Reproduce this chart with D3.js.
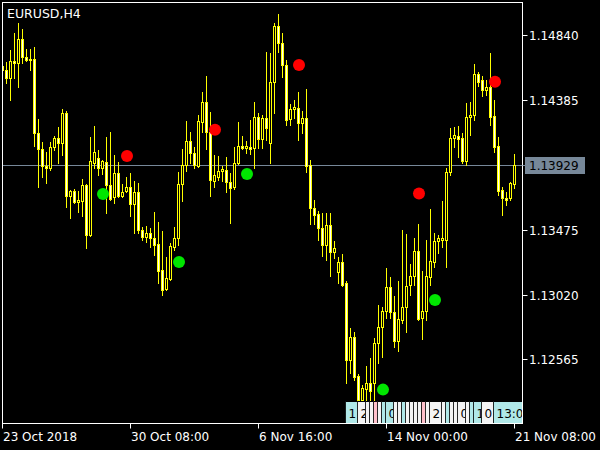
<!DOCTYPE html>
<html><head><meta charset="utf-8">
<script src="https://cdn.jsdelivr.net/npm/d3@7"></script>
<style>html,body{margin:0;padding:0;background:#000;}svg{display:block;}</style>
</head><body>
<svg id="c" width="600" height="450"></svg>
<script>
const open  = [1.14623,1.14595,1.14539,1.14658,1.14644,1.14813,1.14686,1.14665,1.14672,1.14153,1.14041,1.13922,1.13908,1.14055,1.14118,1.14083,1.14293,1.13711,1.13746,1.13669,1.13676,1.13789,1.13438,1.13943,1.13978,1.13908,1.13950,1.13789,1.13704,1.13873,1.13711,1.13746,1.13775,1.13655,1.13740,1.13473,1.13424,1.13452,1.13417,1.13375,1.13193,1.13059,1.13129,1.13354,1.13417,1.13796,1.13929,1.14097,1.14013,1.13922,1.14230,1.14371,1.14160,1.13817,1.13845,1.13887,1.13894,1.13810,1.13775,1.13943,1.14062,1.14048,1.14055,1.14048,1.14265,1.14111,1.14258,1.14083,1.14511,1.14904,1.14784,1.14630,1.14251,1.14322,1.14329,1.14223,1.14258,1.13929,1.13627,1.13585,1.13487,1.13368,1.13508,1.13319,1.13178,1.13249,1.13101,1.12561,1.12723,1.12449,1.12281,1.12358,1.12400,1.12400,1.12681,1.12793,1.12905,1.13073,1.12898,1.12695,1.12842,1.12933,1.13087,1.13150,1.13326,1.12856,1.12905,1.13143,1.13249,1.13396,1.13403,1.13403,1.13880,1.14118,1.14132,1.14118,1.13957,1.14265,1.14280,1.14567,1.14525,1.14455,1.14476,1.14273,1.14062,1.13753,1.13697,1.13697,1.13796];
const high  = [1.14637,1.14651,1.14735,1.14855,1.14925,1.14883,1.14742,1.14742,1.14756,1.14251,1.14090,1.14020,1.14090,1.14132,1.14195,1.14322,1.14308,1.13753,1.13760,1.13746,1.13831,1.13796,1.14125,1.14202,1.14034,1.13964,1.14125,1.14160,1.13999,1.13950,1.13796,1.13845,1.13873,1.13817,1.13803,1.13494,1.13501,1.13487,1.13599,1.13529,1.13466,1.13284,1.13382,1.13494,1.13880,1.14041,1.14237,1.14160,1.14055,1.14280,1.14441,1.14553,1.14301,1.13999,1.13992,1.13922,1.13985,1.13873,1.14055,1.14230,1.14132,1.14097,1.14244,1.14371,1.14293,1.14280,1.14721,1.14714,1.14925,1.14988,1.14855,1.14665,1.14357,1.14385,1.14441,1.14308,1.14462,1.13964,1.13683,1.13606,1.13592,1.13592,1.13592,1.13396,1.13284,1.13305,1.13115,1.12786,1.12758,1.12463,1.12386,1.12519,1.12575,1.12716,1.12947,1.12933,1.13206,1.13143,1.13010,1.13115,1.13473,1.13445,1.13235,1.13417,1.13515,1.13186,1.13403,1.13620,1.13452,1.13438,1.13676,1.13908,1.14188,1.14195,1.14202,1.14153,1.14364,1.14371,1.14637,1.14581,1.14553,1.14525,1.14714,1.14385,1.14125,1.13775,1.13740,1.13810,1.14006];
const low   = [1.14581,1.14504,1.14385,1.14539,1.14476,1.14644,1.14658,1.14595,1.14062,1.13775,1.13845,1.13803,1.13894,1.14034,1.13943,1.13999,1.13634,1.13557,1.13662,1.13599,1.13571,1.13347,1.13431,1.13908,1.13859,1.13866,1.13592,1.13683,1.13662,1.13704,1.13704,1.13740,1.13571,1.13452,1.13452,1.13403,1.13389,1.13354,1.13298,1.13101,1.13017,1.13052,1.13122,1.13333,1.13368,1.13676,1.13887,1.13943,1.13908,1.13915,1.14160,1.14041,1.13711,1.13775,1.13824,1.13817,1.13740,1.13522,1.13760,1.13936,1.14041,1.14013,1.14006,1.13908,1.14048,1.14048,1.14104,1.13943,1.14293,1.14721,1.14546,1.14209,1.14209,1.14258,1.14104,1.14153,1.13880,1.13515,1.13515,1.13403,1.13291,1.13263,1.13150,1.13277,1.13101,1.13080,1.12400,1.12470,1.12421,1.12211,1.12197,1.12281,1.12246,1.12267,1.12540,1.12582,1.12856,1.12856,1.12652,1.12624,1.12821,1.12758,1.13017,1.13087,1.12842,1.12709,1.12842,1.13087,1.13213,1.13312,1.13354,1.13213,1.13859,1.14055,1.13985,1.13943,1.13929,1.14139,1.14244,1.14483,1.14413,1.14420,1.14209,1.14020,1.13719,1.13578,1.13648,1.13683,1.13768];
const close = [1.14595,1.14539,1.14658,1.14644,1.14813,1.14686,1.14665,1.14672,1.14153,1.14041,1.13922,1.13908,1.14055,1.14118,1.14083,1.14293,1.13711,1.13746,1.13669,1.13683,1.13789,1.13438,1.13957,1.14020,1.13908,1.13957,1.13789,1.13690,1.13873,1.13711,1.13740,1.13775,1.13655,1.13740,1.13473,1.13424,1.13452,1.13417,1.13368,1.13186,1.13052,1.13136,1.13361,1.13417,1.13796,1.13929,1.14097,1.14013,1.13929,1.14237,1.14371,1.14160,1.13824,1.13859,1.13887,1.13901,1.13810,1.13768,1.13943,1.14062,1.14048,1.14062,1.14041,1.14265,1.14111,1.14258,1.14188,1.14511,1.14904,1.14784,1.14630,1.14244,1.14322,1.14336,1.14223,1.14258,1.13922,1.13627,1.13578,1.13487,1.13368,1.13508,1.13319,1.13347,1.13249,1.13087,1.12561,1.12723,1.12442,1.12281,1.12365,1.12400,1.12344,1.12681,1.12793,1.12905,1.13073,1.12898,1.12695,1.12849,1.12933,1.13080,1.13150,1.13326,1.12849,1.12905,1.13150,1.13256,1.13396,1.13417,1.13417,1.13880,1.14118,1.14139,1.14111,1.13957,1.14265,1.14280,1.14567,1.14511,1.14455,1.14476,1.14265,1.14055,1.13746,1.13697,1.13683,1.13803,1.13929];

const sellIdx = [31, 53, 74, 104, 123];
const sellVal = [1.13992, 1.14176, 1.14630, 1.13728, 1.14513];
const buyIdx  = [25, 44, 61, 95, 108];
const buyVal  = [1.13725, 1.13249, 1.13866, 1.12353, 1.12982];

const priceTicks = [1.14840, 1.14385, 1.13929, 1.13475, 1.13020, 1.12565];
const priceTickLabels = ["1.14840", "1.14385", "", "1.13475", "1.13020", "1.12565"];
const currentPrice = 1.13929;
const timeTickIdx = [0, 32, 64, 96, 128];
const timeTickLabels = ["23 Oct 2018", "30 Oct 08:00", "6 Nov 16:00", "14 Nov 00:00", "21 Nov 08:00"];
const title = "EURUSD,H4";

// bottom label strip: segment start bar, end bar, colour kind, visible text
const segStart = [86, 89, 91, 92, 93, 94, 95, 96, 98, 99, 100, 101, 102, 103, 104, 105, 106, 107, 110, 111, 112, 113, 114, 116, 117, 118, 120, 123];
const segEnd   = [89, 91, 92, 93, 94, 95, 96, 98, 99, 100, 101, 102, 103, 104, 105, 106, 107, 110, 111, 112, 113, 114, 116, 117, 118, 120, 123, 131];
const segKind  = [0, 1, 1, 1, 2, 1, 0, 0, 1, 1, 0, 1, 1, 1, 1, 2, 1, 1, 1, 0, 1, 1, 1, 1, 0, 0, 1, 0];
const segText  = ["1", "2", "", "", "", "", "", "0", "", "", "", "", "", "", "", "", "", "2", "", "", "", "", "0", "", "", "1", "0", "13:00"];

const svg = d3.select("#c");
const W = 600, H = 450;
const L = 2.5, R = 522.5, T = 2.5, B = 423.5;

const x = d3.scaleLinear().domain([0, 128]).range([2.5, 514.5]);
const y = d3.scaleLinear().domain([1.12565, 1.14840]).range([359.4, 35.1]);

svg.append("rect").attr("width", W).attr("height", H).attr("fill", "#000");

const defs = svg.append("defs");
defs.append("clipPath").attr("id", "plot")
  .append("rect").attr("x", L).attr("y", T).attr("width", R - L).attr("height", B - T);

const g = svg.append("g").attr("clip-path", "url(#plot)");

// current price line
g.append("line").attr("x1", L).attr("x2", R)
  .attr("y1", Math.round(y(currentPrice)) + 0.5).attr("y2", Math.round(y(currentPrice)) + 0.5)
  .attr("stroke", "#778899").attr("stroke-width", 1);

const bars = d3.range(open.length).map(i => ({i, o: open[i], h: high[i], l: low[i], c: close[i]}));
const cg = g.append("g");
const snap = v => Math.round(v);

bars.forEach(d => {
  const cx = x(d.i);
  cg.append("line").attr("x1", cx).attr("x2", cx)
    .attr("y1", snap(y(d.h))).attr("y2", snap(y(d.l)) + 1)
    .attr("stroke", "#ffff00").attr("stroke-width", 1);
  const top = snap(y(Math.max(d.o, d.c)));
  const bot = snap(y(Math.min(d.o, d.c)));
  if (bot - top < 1) {
    cg.append("line").attr("x1", cx - 1.5).attr("x2", cx + 1.5)
      .attr("y1", top + 0.5).attr("y2", top + 0.5)
      .attr("stroke", "#ffff00").attr("stroke-width", 1);
  } else {
    cg.append("rect").attr("x", cx - 1).attr("width", 2)
      .attr("y", top + 0.5).attr("height", bot - top)
      .attr("fill", d.c < d.o ? "#ffffff" : "#000000")
      .attr("stroke", "#ffff00").attr("stroke-width", 1);
  }
});

// signal dots
g.selectAll(".sell").data(sellIdx).enter().append("circle")
  .attr("cx", (d) => x(d) + 0.5).attr("cy", (d, k) => y(sellVal[k])).attr("r", 6)
  .attr("fill", "#ff0000");
g.selectAll(".buy").data(buyIdx).enter().append("circle")
  .attr("cx", (d) => x(d) + 0.5).attr("cy", (d, k) => y(buyVal[k])).attr("r", 6)
  .attr("fill", "#00e600");

// bottom strip of labels (non-overlapping segments)
const stripColors = ["#b0e8e8", "#f4f4f4", "#ffc0cb"];
const sg = g.append("g");
segStart.forEach((s, k) => {
  const sx = Math.round(x(s)) - 1.5;
  const ex = Math.round(x(segEnd[k])) - 1.5;
  const cid = "seg" + k;
  defs.append("clipPath").attr("id", cid)
    .append("rect").attr("x", sx).attr("y", 401).attr("width", ex - sx).attr("height", 23);
  const sgg = sg.append("g").attr("clip-path", `url(#${cid})`);
  sgg.append("rect").attr("x", sx).attr("y", 401.5).attr("width", ex - sx).attr("height", 22)
    .attr("fill", stripColors[segKind[k]]).attr("stroke", "#000").attr("stroke-width", 1);
  if (segText[k]) {
    sgg.append("text").attr("x", sx + 3).attr("y", 418)
      .attr("font-family", "DejaVu Sans").attr("font-size", 12).attr("fill", "#000")
      .text(segText[k]);
  }
});

// frame
svg.append("rect").attr("x", L).attr("y", T).attr("width", R - L).attr("height", B - T)
  .attr("fill", "none").attr("stroke", "#fff").attr("stroke-width", 1);

// price axis
const pa = svg.append("g");
priceTicks.forEach((p, k) => {
  if (!priceTickLabels[k]) return;
  const py = Math.round(y(p)) + 0.5;
  pa.append("line").attr("x1", R).attr("x2", R + 5).attr("y1", py).attr("y2", py)
    .attr("stroke", "#fff");
  pa.append("text").attr("x", 529).attr("y", py + 4.5)
    .attr("font-family", "DejaVu Sans").attr("font-size", 12).attr("fill", "#fff")
    .text(priceTickLabels[k]);
});
// current price box
const cpY = Math.round(y(currentPrice)) + 0.5;
pa.append("line").attr("x1", R).attr("x2", 525).attr("y1", cpY).attr("y2", cpY).attr("stroke", "#778899");
pa.append("rect").attr("x", 525).attr("y", cpY - 8.5).attr("width", 60).attr("height", 17)
  .attr("fill", "#778899");
pa.append("text").attr("x", 529).attr("y", cpY + 4.5)
  .attr("font-family", "DejaVu Sans").attr("font-size", 12).attr("fill", "#000")
  .text(currentPrice.toFixed(5));

// time axis
const ta = svg.append("g");
timeTickIdx.forEach((ti, k) => {
  const tx = x(ti);
  ta.append("line").attr("x1", tx).attr("x2", tx).attr("y1", B).attr("y2", B + 5).attr("stroke", "#fff");
  ta.append("text").attr("x", tx + 0.5).attr("y", 441)
    .attr("font-family", "DejaVu Sans").attr("font-size", 12).attr("fill", "#fff")
    .text(timeTickLabels[k]);
});

// title
svg.append("text").attr("x", 7).attr("y", 18)
  .attr("font-family", "DejaVu Sans").attr("font-size", 12.5).attr("fill", "#fff")
  .text(title);
</script>
</body></html>
